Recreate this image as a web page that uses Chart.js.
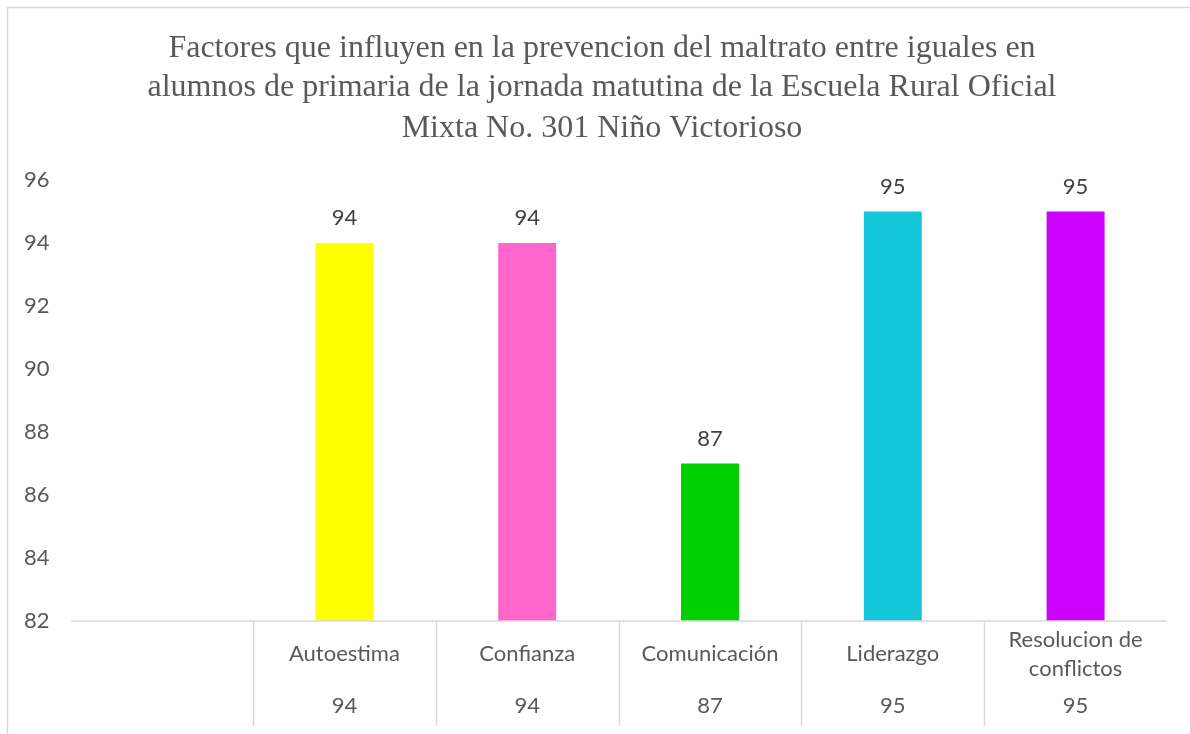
<!DOCTYPE html>
<html>
<head>
<meta charset="utf-8">
<script src="https://cdn.jsdelivr.net/npm/chart.js@4/dist/chart.umd.min.js"></script>
<style>
  html, body { margin: 0; padding: 0; background: #fff; }
</style>
</head>
<body>
<canvas id="factoresChart" width="1190" height="734"></canvas>
<script>
const titleLines = [
  "Factores que influyen en la prevencion del maltrato entre iguales en",
  "alumnos de primaria de la jornada matutina de la Escuela Rural Oficial",
  "Mixta No. 301 Niño Victorioso",
];
const categories = ["Autoestima", "Confianza", "Comunicación", "Liderazgo", "Resolucion de conflictos"];
// how the names wrap inside the data table under the axis
const tableNames = [["Autoestima"], ["Confianza"], ["Comunicación"], ["Liderazgo"], ["Resolucion de", "conflictos"]];
const values = [94, 94, 87, 95, 95];
const barColors = ["#FFFF00", "#FF66CC", "#00D000", "#14C6DA", "#CC00FF"];
const yMin = 82;
const yMax = 96;
const yStep = 2;

const labelFont = "22px Lato";
const gray = "#595959";
const lineGray = "#D9D9D9";

// outer frame + title, drawn like the office chart
const framePlugin = {
  id: "frame",
  beforeDraw(chart) {
    const ctx = chart.ctx;
    ctx.save();
    ctx.fillStyle = "#fff";
    ctx.fillRect(0, 0, chart.width, chart.height);
    ctx.strokeStyle = lineGray;
    ctx.lineWidth = 1.5;
    ctx.strokeRect(7.5, 7.5, chart.width + 20, chart.height + 20);
    ctx.fillStyle = gray;
    ctx.font = "32px 'Liberation Serif'";
    ctx.textAlign = "center";
    ctx.textBaseline = "alphabetic";
    const ys = [57, 96, 137];
    titleLines.forEach((t, i) => ctx.fillText(t, 602, ys[i]));
    ctx.restore();
  },
};

// value labels over bars, axis line and the data table
const tablePlugin = {
  id: "table",
  afterDatasetsDraw(chart) {
    const ctx = chart.ctx;
    const area = chart.chartArea;
    const x = chart.scales.x;
    ctx.save();

    // bar labels
    ctx.font = labelFont;
    ctx.fillStyle = "#404040";
    ctx.textAlign = "center";
    ctx.textBaseline = "middle";
    chart.getDatasetMeta(0).data.forEach((bar, i) => {
      ctx.fillText(String(values[i]), bar.x, bar.y - 25);
    });

    // axis line
    ctx.strokeStyle = lineGray;
    ctx.lineWidth = 1.5;
    ctx.beginPath();
    ctx.moveTo(71, area.bottom);
    ctx.lineTo(area.right, area.bottom);
    ctx.stroke();

    // table cell borders
    const w = (area.right - area.left) / categories.length;
    for (let i = 0; i < categories.length; i++) {
      const bx = Math.round(area.left + i * w) + 0.5;
      ctx.beginPath();
      ctx.moveTo(bx, area.bottom);
      ctx.lineTo(bx, area.bottom + 105);
      ctx.stroke();
    }

    // table text
    ctx.fillStyle = gray;
    categories.forEach((c, i) => {
      const cx = x.getPixelForValue(i);
      const lines = tableNames[i];
      const mid = area.bottom + 33;
      lines.forEach((ln, j) => {
        const ly = mid + (j - (lines.length - 1) / 2) * 29;
        ctx.fillText(ln, cx, ly);
      });
      ctx.fillText(String(values[i]), cx, area.bottom + 85);
    });
    ctx.restore();
  },
};

new Chart(document.getElementById("factoresChart"), {
  type: "bar",
  data: {
    labels: categories,
    datasets: [
      {
        data: values,
        backgroundColor: barColors,
        categoryPercentage: 1,
        barPercentage: 0.317,
      },
    ],
  },
  options: {
    responsive: false,
    animation: false,
    layout: { padding: { top: 180, left: 24, right: 23, bottom: 0 } },
    plugins: {
      legend: { display: false },
      title: { display: false },
      tooltip: { enabled: false },
    },
    scales: {
      x: {
        grid: { display: false },
        border: { display: false },
        ticks: { display: false },
        afterFit(scale) {
          scale.height = 113;
        },
      },
      y: {
        min: yMin,
        max: yMax,
        grid: { display: false },
        border: { display: false },
        ticks: {
          stepSize: yStep,
          crossAlign: "far",
          color: gray,
          font: { family: "Lato", size: 22 },
        },
        afterFit(scale) {
          scale.width = 253 - 24;
        },
      },
    },
  },
  plugins: [framePlugin, tablePlugin],
});
</script>
</body>
</html>
